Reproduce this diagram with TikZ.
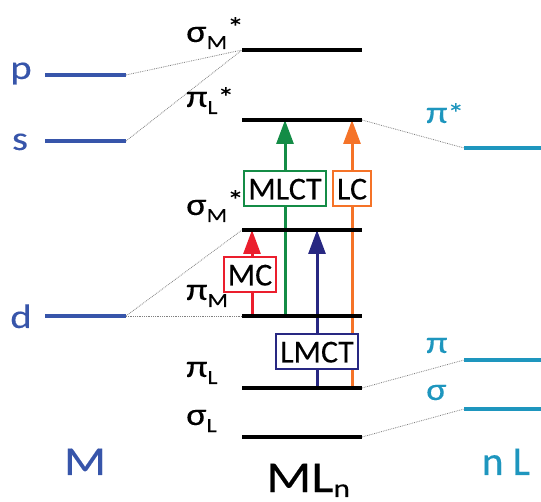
\documentclass[tikz,border=0pt]{standalone}
\usepackage{fontspec}
\setmainfont{Carlito}[FakeBold=0.2]
\newfontfamily\wfont{Carlito}[FakeStretch=1.2,FakeBold=0.2]
\usetikzlibrary{arrows.meta}
\definecolor{mblue}{RGB}{55,85,170}
\definecolor{lcyan}{RGB}{30,150,190}
\definecolor{tgreen}{RGB}{20,140,70}
\definecolor{torange}{RGB}{245,115,40}
\definecolor{tred}{RGB}{235,30,45}
\definecolor{tnavy}{RGB}{40,40,130}
\newcommand{\subf}{\fontsize{20}{20}\selectfont}
\newcommand{\starf}{\fontsize{28}{28}\selectfont}
\begin{document}
\begin{tikzpicture}[x=1pt,y=-1pt,
  lvl/.style={line width=3.2pt, line cap=butt},
  corr/.style={gray, line width=0.8pt, densely dotted},
  tr/.style={line width=3pt, -{Triangle[length=24pt,width=17pt]}},
  tbox/.style={draw, line width=2pt, fill=white, text=black,
    font=\fontsize{32}{32}\selectfont, inner xsep=4pt,
    text height=21pt, text depth=0pt, inner ysep=7pt},
  glab/.style={anchor=base west, inner sep=0pt, font=\wfont\fontsize{32}{32}\selectfont},
  mlab/.style={anchor=base, inner sep=0pt, text=mblue, font=\wfont\fontsize{34}{34}\selectfont},
]
\useasboundingbox (0,0) rectangle (541,502);
% central levels
\coordinate (aL) at (242,50);  \coordinate (aR) at (362,50);
\coordinate (bL) at (242,120); \coordinate (bR) at (362,120);
\coordinate (cL) at (242,230); \coordinate (cR) at (362,230);
\coordinate (dL) at (242,316); \coordinate (dR) at (362,316);
\coordinate (eL) at (242,388); \coordinate (eR) at (362,388);
\coordinate (fL) at (242,437); \coordinate (fR) at (362,437);
% metal levels
\coordinate (pL) at (45,75);  \coordinate (pR) at (126,75);
\coordinate (sL) at (45,141); \coordinate (sR) at (126,141);
\coordinate (dmL) at (45,316); \coordinate (dmR) at (126,316);
% ligand levels
\coordinate (psL) at (464,148); \coordinate (psR) at (541,148);
\coordinate (piL) at (464,360); \coordinate (piR) at (541,360);
\coordinate (sgL) at (464,409); \coordinate (sgR) at (541,409);
% arrow end points
\coordinate (rs) at (252,316); \coordinate (re) at (252,230);
\coordinate (gs) at (285,316); \coordinate (ge) at (285,120);
\coordinate (ns) at (317,388); \coordinate (ne) at (317,230);
\coordinate (os) at (352,388); \coordinate (oe) at (352,120);

% correlation lines
\draw[corr] (pR) -- (aL);
\draw[corr] (sR) -- (aL);
\draw[corr] (dmR) -- (cL);
\draw[corr] (dmR) -- (dL);
\draw[corr] (bR) -- (psL);
\draw[corr] (eR) -- (piL);
\draw[corr] (fR) -- (sgL);

% transitions
\draw[tr, tred] (rs) -- (re);
\draw[tr, tgreen] (gs) -- (ge);
\draw[tr, tnavy] (ns) -- (ne);
\draw[tr, torange] (os) -- (oe);

% levels
\foreach \l in {a,b,c,d,e,f} \draw[lvl] (\l L) -- (\l R);
\foreach \l in {p,s,dm} \draw[lvl, mblue] (\l L) -- (\l R);
\foreach \l in {ps,pi,sg} \draw[lvl, lcyan] (\l L) -- (\l R);

% boxes
\node[tbox, draw=tgreen] (mlct) at (285,189) {MLCT};
\node[tbox, draw=torange] (lc) at (352,189) {LC};
\node[tbox, draw=tred] (mc) at (250,275) {MC};
\node[tbox, draw=tnavy] (lmct) at (317,352) {LMCT};

% orbital labels
\node[glab] (t1) at (186,42) {σ\lower7pt\hbox{\subf M}\raise5pt\hbox{\starf *}};
\node[glab] (t2) at (186,107) {π\lower7pt\hbox{\subf L}\raise0pt\hbox{\starf *}};
\node[glab] (t3) at (186,215) {σ\lower7pt\hbox{\subf M}\raise5pt\hbox{\starf *}};
\node[glab] (t4) at (186,300) {π\lower7pt\hbox{\subf M}};
\node[glab] (t5) at (186,377) {π\lower7pt\hbox{\subf L}};
\node[glab] (t6) at (186,425) {σ\lower7pt\hbox{\subf L}};
\node[glab, text=lcyan] (t7) at (426,123) {π\hbox{\starf *}};
\node[glab, text=lcyan] (t8) at (426,353) {π};
\node[glab, text=lcyan] (t9) at (426,400) {σ};
\node[mlab] (lp) at (21,79) {p};
\node[mlab] (ls) at (20,150) {s};
\node[mlab] (ld) at (21,328) {d};
\node[anchor=base, inner sep=0pt, text=mblue, font=\wfont\fontsize{41}{41}\selectfont] (lM) at (85,475) {M};
\node[anchor=base, inner sep=0pt, text=lcyan, font=\fontsize{41}{41}\selectfont] (lnL) at (506,475) {n L};
\node[anchor=base west, inner sep=0pt, font=\wfont\fontsize{44}{44}\selectfont] (lML) at (266,492) {ML\lower5pt\hbox{\fontsize{26}{26}\selectfont n}};
\end{tikzpicture}
\end{document}
